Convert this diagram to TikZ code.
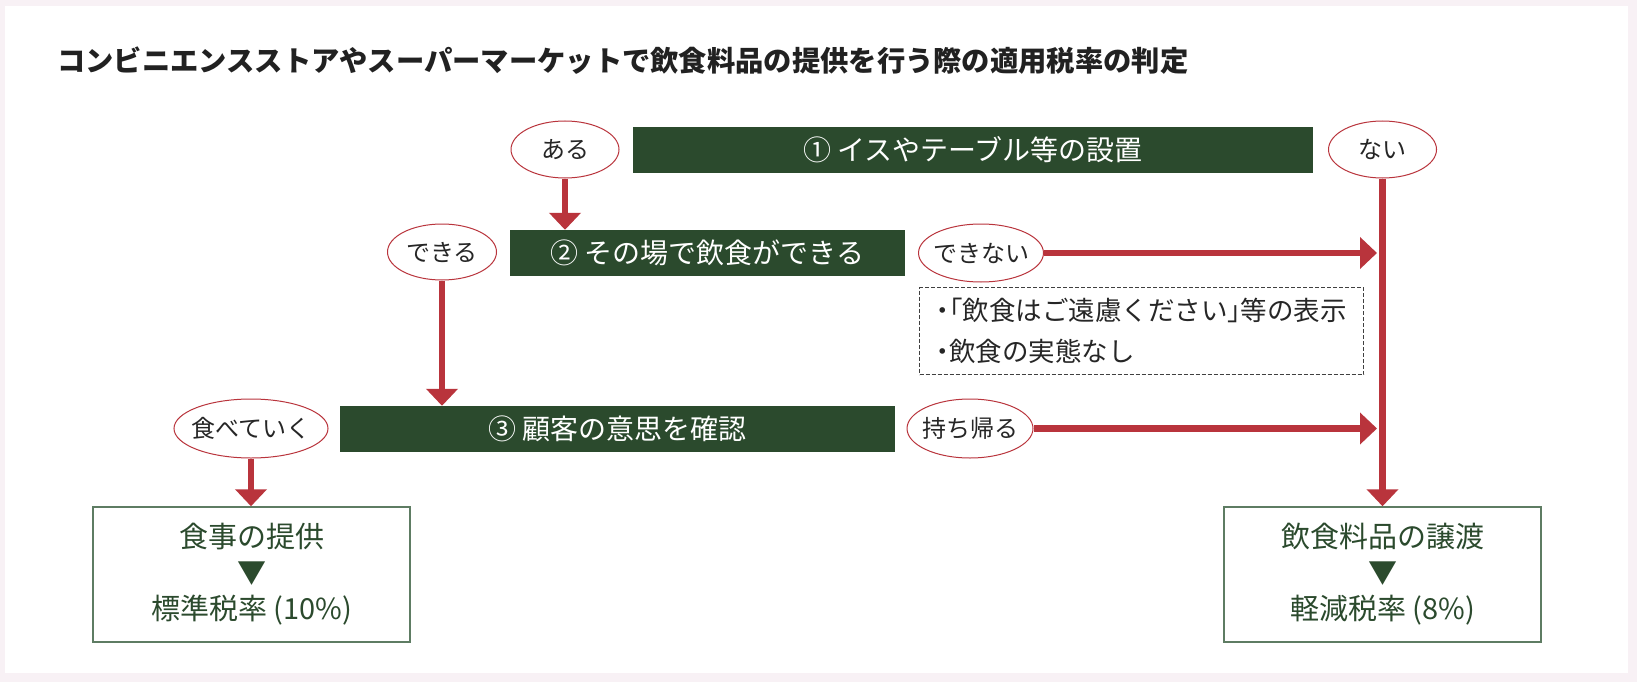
\documentclass[tikz,border=0pt]{standalone}
\usepackage{fontspec}
\setmainfont{Noto Sans CJK JP}
\usetikzlibrary{shapes.geometric,arrows.meta}
\definecolor{boxgreen}{HTML}{2B4A2D}
\definecolor{arrowred}{HTML}{B9343C}
\definecolor{framegray}{HTML}{5E7C63}
\definecolor{bgpink}{HTML}{F8F1F5}
\newcommand\halfw[1]{{\addfontfeatures{RawFeature=+halt}#1}}
\tikzset{
  qbox/.style={fill=boxgreen, text=white, minimum height=46pt, inner sep=0pt, font=\fontsize{28}{34}\selectfont},
  answer/.style={ellipse, draw=arrowred, line width=1pt, fill=white, minimum width=108pt, minimum height=57pt,
    inner xsep=-6pt, inner ysep=0pt, text=black!85, font=\fontsize{24}{29}\selectfont},
  outbox/.style={draw=framegray, line width=1.5pt, minimum width=317pt, minimum height=135pt, align=center,
    text=boxgreen, font=\fontsize{29}{36}\selectfont},
  notebox/.style={draw=black!75, dash pattern=on 4pt off 2pt, line width=1pt, minimum width=444pt, minimum height=87pt,
    inner xsep=13pt, align=left, text=black!85, font=\fontsize{26.5}{41}\selectfont},
  flow/.style={draw=arrowred, line width=6.5pt, -{Triangle[length=17pt,width=31pt]}}
}

\begin{document}
\begin{tikzpicture}[x=1pt,y=-1pt]
  \fill[bgpink] (0,0) rectangle (1637,682);
  \fill[white] (5,6) rectangle (1628,673);
  \useasboundingbox (0,0) rectangle (1637,682);

  \node[anchor=west, inner sep=0pt, text=black!87, font=\fontsize{28.3}{34}\selectfont\bfseries] (title) at (57,61)
    {コンビニエンスストアやスーパーマーケットで飲食料品の提供を行う際の適用税率の判定};

  % questions
  \node[qbox, minimum width=680pt] (q1) at (973,150) {① イスやテーブル等の設置};
  \node[qbox, minimum width=395pt] (q2) at (707.5,253) {② その場で飲食ができる};
  \node[qbox, minimum width=555pt] (q3) at (617.5,429) {③ 顧客の意思を確認};

  % answers
  \node[answer] (aru) at (565,149.5) {ある};
  \node[answer] (nai) at (1382.5,149.5) {ない};
  \node[answer, minimum width=109pt, minimum height=56pt] (dekiru) at (442,252) {できる};
  \node[answer, minimum width=125pt, minimum height=58pt] (dekinai) at (981,253) {できない};
  \node[answer, minimum width=154pt, minimum height=59pt] (taberu) at (251,428.5) {食べていく};
  \node[answer, minimum width=126pt, minimum height=59pt] (mochi) at (970,428.5) {持ち帰る};

  \node[notebox, anchor=north west] (note) at (919,287)
    {\halfw{・「}飲食はご遠慮ください\halfw{」}等の表示\\\halfw{・}飲食の実態なし};

  % results
  \node[outbox] (left) at (251.5,574.5) {食事の提供\\▼\\標準税率 (10\%)};
  \node[outbox] (right) at (1382.5,574.5) {飲食料品の譲渡\\▼\\軽減税率 (8\%)};

  \draw[flow] (aru.south) -- (aru.south |- q2.north);
  \draw[flow] (dekiru.south) -- (dekiru.south |- q3.north);
  \draw[flow] (taberu.south) -- (taberu.south |- left.north);
  \draw[flow] (nai.south) -- (nai.south |- right.north);
  \draw[flow, shorten >=5.5pt] (dekinai.east) -- (dekinai.east -| nai.south);
  \draw[flow, shorten >=5.5pt] (mochi.east) -- (mochi.east -| nai.south);
\end{tikzpicture}
\end{document}
